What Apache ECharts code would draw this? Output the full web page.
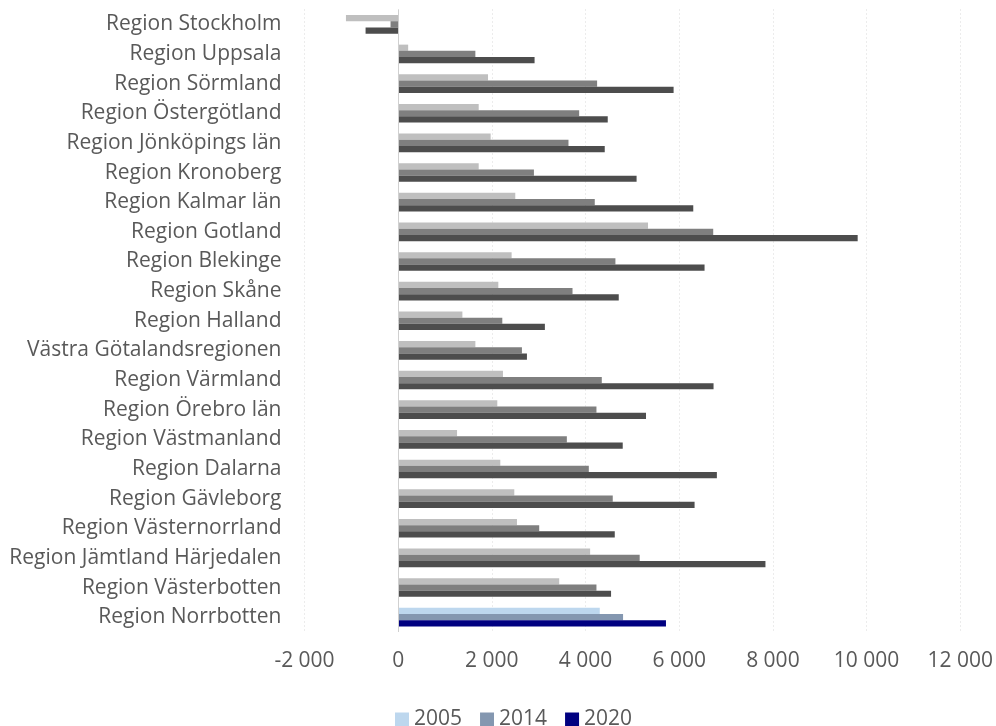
<!DOCTYPE html>
<html>
<head>
<meta charset="utf-8">
<script src="https://cdn.jsdelivr.net/npm/echarts@6/dist/echarts.min.js"></script>
<style>
html,body{margin:0;padding:0;background:#fff;}
#chart{width:996px;height:726px;}
</style>
</head>
<body>
<div id="chart"></div>
<script>
const categories = [
  'Region Stockholm','Region Uppsala','Region Sörmland','Region Östergötland',
  'Region Jönköpings län','Region Kronoberg','Region Kalmar län','Region Gotland',
  'Region Blekinge','Region Skåne','Region Halland','Västra Götalandsregionen',
  'Region Värmland','Region Örebro län','Region Västmanland','Region Dalarna',
  'Region Gävleborg','Region Västernorrland','Region Jämtland Härjedalen',
  'Region Västerbotten','Region Norrbotten'
];
const years = ['2005','2014','2020'];
const values2005 = [-1115,213,1918,1719,1974,1719,2500,5334,2422,2138,1371,1648,2237,2116,1257,2180,2479,2536,4098,3438,4304];
const values2014 = [-163,1648,4247,3864,3636,2898,4197,6726,4638,3722,2223,2642,4347,4233,3601,4070,4581,3011,5156,4233,4801];
const values2020 = [-696,2912,5880,4474,4410,5090,6300,9810,6541,4709,3132,2749,6733,5291,4794,6804,6328,4624,7841,4545,5717];
const xTicks = [-2000,0,2000,4000,6000,8000,10000,12000];
const highlighted = 'Region Norrbotten';

const blueColors = ['#BDD7EE','#8497B0','#000080'];
const grayColors = ['#BFBFBF','#7F7F7F','#4D4D4D'];
const seriesValues = [values2005, values2014, values2020];

const FONT = '"Open Sans"';
const chart = echarts.init(document.getElementById('chart'), null, {renderer:'canvas'});

const series = years.map((y, si) => ({
  name: y,
  type: 'bar',
  barGap: '0%',
  barCategoryGap: '37%',
  itemStyle: {color: blueColors[si]},
  data: seriesValues[si].map((v, i) => ({
    value: v,
    itemStyle: {color: categories[i] === highlighted ? blueColors[si] : grayColors[si]}
  })),
  markLine: si === 0 ? {
    silent: true,
    symbol: 'none',
    label: {show: false},
    lineStyle: {color: '#D0D0D0', type: 'solid', width: 1},
    data: [{xAxis: 0}]
  } : undefined
}));

chart.setOption({
  animation: false,
  textStyle: {fontFamily: FONT},
  grid: {left: 304.5, right: 33.5, top: 9.5, bottom: 94, containLabel: false},
  legend: {
    data: years,
    top: 704,
    left: 390,
    itemWidth: 14,
    itemHeight: 14,
    itemGap: 18,
    icon: 'rect',
    textStyle: {color: '#595959', fontSize: 21, fontFamily: FONT}
  },
  xAxis: {
    type: 'value',
    min: xTicks[0],
    max: xTicks[xTicks.length-1],
    interval: 2000,
    axisLine: {show: false},
    axisTick: {show: false},
    axisLabel: {
      color: '#595959', fontSize: 21, fontFamily: FONT, margin: 19,
      formatter: v => v.toLocaleString('sv-SE').replace(/\u2212/g,'-').replace(/\u00a0/g,' ')
    },
    splitLine: {show: true, lineStyle: {color: '#D9D9D9', type: [1,3], width: 1}}
  },
  yAxis: {
    type: 'category',
    data: categories,
    inverse: true,
    axisLine: {show: false, onZero: false},
    axisTick: {show: false},
    axisLabel: {color: '#595959', fontSize: 21, fontFamily: FONT, margin: 23, padding: [4,0,0,0]}
  },
  series: series
});
</script>
</body>
</html>
